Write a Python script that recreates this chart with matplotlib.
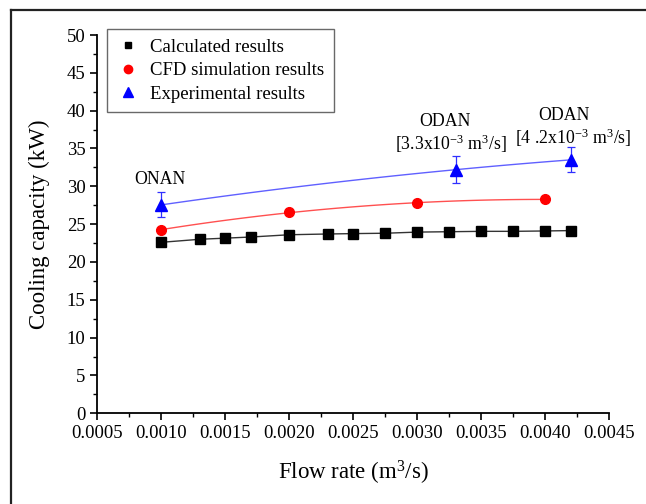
import numpy as np
import matplotlib
matplotlib.use("Agg")
import matplotlib.pyplot as plt
from matplotlib.ticker import MultipleLocator, FormatStrFormatter
from matplotlib.lines import Line2D

plt.rcParams['font.family'] = ['Liberation Serif', 'DejaVu Serif']
plt.rcParams['mathtext.fontset'] = 'custom'
plt.rcParams['mathtext.rm'] = 'Liberation Serif'
plt.rcParams['mathtext.default'] = 'regular'

# Data
calc_x = [0.001, 0.0013, 0.0015, 0.0017, 0.002, 0.0023, 0.0025, 0.00275,
          0.003, 0.00325, 0.0035, 0.00375, 0.004, 0.0042]
calc_y = [22.6, 23.0, 23.15, 23.3, 23.6, 23.7, 23.75, 23.8,
          23.95, 24.0, 24.05, 24.05, 24.1, 24.15]
cfd_x = [0.001, 0.002, 0.003, 0.004]
cfd_y = [24.25, 26.6, 27.75, 28.3]
exp_x = [0.001, 0.0033, 0.0042]
exp_y = [27.55, 32.2, 33.5]
exp_err = [1.65, 1.8, 1.65]

W, H = 646, 504
fig = plt.figure(figsize=(W / 100, H / 100), dpi=100)
ax = fig.add_axes([97.4 / W, 1 - 413.3 / H, 512 / W, 378.3 / H])

# trend curves
ax.plot(calc_x, calc_y, color='#333333', lw=1.0, zorder=2)
for xs, ys, c in [(cfd_x, cfd_y, '#ff5050'), (exp_x, exp_y, '#6060ff')]:
    p = np.polyfit(xs, ys, 2)
    xx = np.linspace(xs[0], xs[-1], 100)
    ax.plot(xx, np.polyval(p, xx), color=c, lw=1.0, zorder=2)

ax.plot(calc_x, calc_y, 's', color='black', ms=6.5, ls='none', zorder=3)
ax.plot(cfd_x, cfd_y, 'o', color='#ff0000', ms=7, ls='none', zorder=3)
ax.errorbar(exp_x, exp_y, yerr=exp_err, fmt='^', color='#0000ff', ms=8,
            ecolor='#3030ff', elinewidth=0.9, capsize=3, capthick=0.9, zorder=3)

ax.set_xlim(0.0005, 0.0045)
ax.set_ylim(0, 50)
ax.xaxis.set_major_locator(MultipleLocator(0.0005))
ax.xaxis.set_minor_locator(MultipleLocator(0.00025))
ax.xaxis.set_major_formatter(FormatStrFormatter('%.4f'))
ax.yaxis.set_major_locator(MultipleLocator(5))
ax.yaxis.set_minor_locator(MultipleLocator(2.5))
ax.tick_params(which='major', direction='out', length=5, width=1.2, labelsize=13.5, colors='black')
ax.tick_params(which='minor', direction='out', length=3, width=1.0)
for s in ['top', 'right']:
    ax.spines[s].set_visible(False)
for s in ['left', 'bottom']:
    ax.spines[s].set_linewidth(1.3)

ax.set_xlabel('Flow rate (m$^{3}$/s)', fontsize=16.5, labelpad=12)
ax.set_ylabel('Cooling capacity (kW)', fontsize=16.5, labelpad=12)

# annotations
def fx(px):
    return px / W
def fy(py):
    return 1 - py / H

fs = 12.8
fig.text(fx(160), fy(179), 'ONAN', fontsize=fs, ha='center', va='center')
fig.text(fx(445), fy(122), 'ODAN', fontsize=fs, ha='center', va='center')
fig.text(fx(451), fy(144), '[3.3x10$^{-3}$ m$^{3}$/s]', fontsize=fs, ha='center', va='center')
fig.text(fx(564), fy(116), 'ODAN', fontsize=fs, ha='center', va='center')
fig.text(fx(573), fy(138), '[4 .2x10$^{-3}$ m$^{3}$/s]', fontsize=fs, ha='center', va='center')

handles = [
    Line2D([], [], marker='s', color='black', ls='none', ms=5),
    Line2D([], [], marker='o', color='#ff0000', ls='none', ms=6),
    Line2D([], [], marker='^', color='#0000ff', ls='none', ms=7),
]
labels = ['Calculated results', 'CFD simulation results', 'Experimental results']
leg = fig.legend(handles, labels, loc='upper left', bbox_to_anchor=(fx(107), fy(29)),
                 bbox_transform=fig.transFigure, borderaxespad=0, fontsize=13.5,
                 frameon=True, fancybox=False, edgecolor='#444444',
                 handletextpad=0.6, handlelength=1.2, labelspacing=0.35,
                 borderpad=0.5)
leg.get_frame().set_linewidth(1.0)

# figure border
fig.add_artist(Line2D([fx(11), 1], [fy(10), fy(10)], transform=fig.transFigure,
                      color='#222222', lw=1.6))
fig.add_artist(Line2D([fx(11), fx(11)], [fy(10), 0], transform=fig.transFigure,
                      color='#222222', lw=1.6))

fig.savefig('out.png', dpi=100)
